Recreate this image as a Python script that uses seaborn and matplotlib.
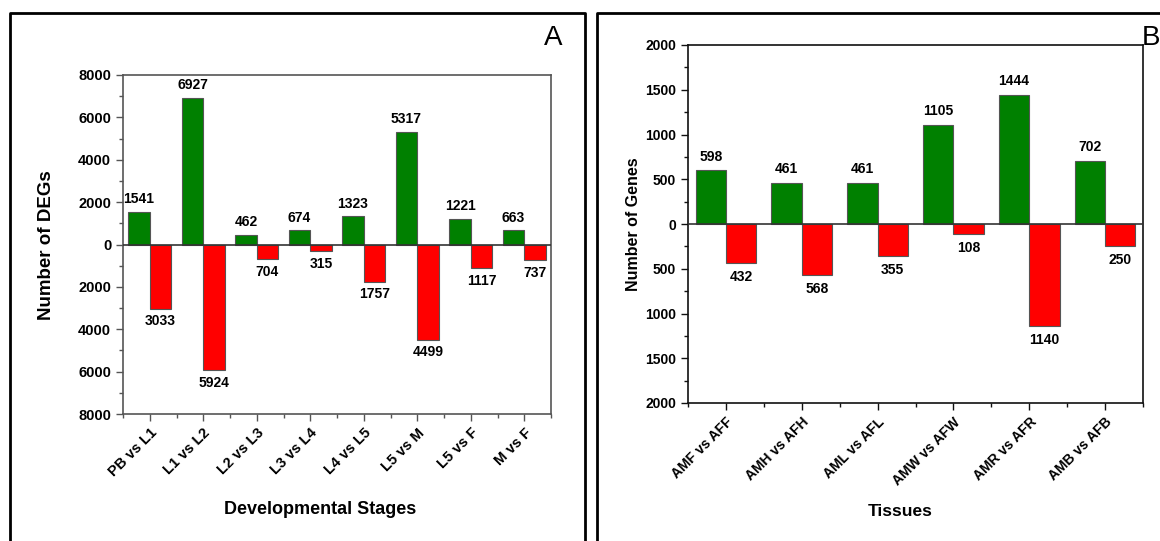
import pandas as pd
import seaborn as sns
import matplotlib.pyplot as plt
from matplotlib.lines import Line2D
from matplotlib.ticker import MultipleLocator, FuncFormatter

# Panel A data: DEGs between developmental stages
stages = ["PB vs L1", "L1 vs L2", "L2 vs L3", "L3 vs L4",
          "L4 vs L5", "L5 vs M", "L5 vs F", "M vs F"]
stages_up = [1541, 6927, 462, 674, 1323, 5317, 1221, 663]
stages_down = [3033, 5924, 704, 315, 1757, 4499, 1117, 737]

# Panel B data: genes between tissues
tissues = ["AMF vs AFF", "AMH vs AFH", "AML vs AFL",
           "AMW vs AFW", "AMR vs AFR", "AMB vs AFB"]
tissues_up = [598, 461, 461, 1105, 1444, 702]
tissues_down = [432, 568, 355, 108, 1140, 250]

GREEN = "#008000"
RED = "#ff0000"

sns.set_style("ticks")
plt.rcParams["font.family"] = ["Liberation Sans", "DejaVu Sans"]
plt.rcParams["font.weight"] = "bold"
plt.rcParams["text.color"] = "black"
plt.rcParams["axes.labelcolor"] = "black"
plt.rcParams["xtick.labelcolor"] = "black"
plt.rcParams["ytick.labelcolor"] = "black"

W, H = 1160, 541
fig = plt.figure(figsize=(W / 100, H / 100), dpi=100)


def px_axes(left, top, right, bottom):
    return fig.add_axes([left / W, 1 - bottom / H, (right - left) / W, (bottom - top) / H])


def make_df(cats, up, down):
    df_up = pd.DataFrame({"comp": cats, "value": up, "dir": "Up"})
    df_dn = pd.DataFrame({"comp": cats, "value": [-v for v in down], "dir": "Down"})
    return pd.concat([df_up, df_dn], ignore_index=True)


def draw_panel(ax, cats, up, down, ylim, major, minor, spine_color, fs_tick, fs_xt, fs_val, offset):
    df = make_df(cats, up, down)
    sns.barplot(data=df, x="comp", y="value", hue="dir", hue_order=["Up", "Down"],
                palette={"Up": GREEN, "Down": RED}, saturation=1, width=0.8, dodge=True,
                edgecolor="#555555", linewidth=0.8, legend=False, ax=ax)
    ax.axhline(0, color="#333333", lw=1.2, zorder=3)
    ax.set_ylim(-ylim, ylim)
    ax.set_xlim(-0.5, len(cats) - 0.5)
    ax.yaxis.set_major_locator(MultipleLocator(major))
    ax.yaxis.set_minor_locator(MultipleLocator(minor))
    ax.yaxis.set_major_formatter(FuncFormatter(lambda v, p: f"{abs(int(round(v)))}"))
    ax.xaxis.set_minor_locator(MultipleLocator(0.5))
    ax.tick_params(axis="both", which="major", direction="out", length=5, width=1,
                   color=spine_color, labelsize=fs_tick, labelcolor="black")
    ax.tick_params(axis="both", which="minor", direction="out", length=3, width=1,
                   color=spine_color)
    for lab in ax.get_yticklabels():
        lab.set_fontweight("bold")
    ax.set_xticks(range(len(cats)))
    ax.set_xticklabels(cats, rotation=45, ha="right", rotation_mode="anchor",
                       fontsize=fs_xt, fontweight="bold")
    for s in ax.spines.values():
        s.set_visible(True)
        s.set_color(spine_color)
        s.set_linewidth(1.2)
    for i, (u, d) in enumerate(zip(up, down)):
        ax.annotate(str(u), (i - 0.2, u), xytext=(0, offset), textcoords="offset points",
                    ha="center", va="bottom", fontsize=fs_val, fontweight="bold")
        ax.annotate(str(d), (i + 0.2, -d), xytext=(0, -offset), textcoords="offset points",
                    ha="center", va="top", fontsize=fs_val, fontweight="bold")


# Panel A
axA = px_axes(123, 75, 551, 414)
draw_panel(axA, stages, stages_up, stages_down, 8000, 2000, 1000, "#555555", 10.5, 10.5, 10, 4)
axA.set_xlabel("")
axA.set_ylabel("")
fig.text(47 / W, 1 - 245 / H, "Number of DEGs", rotation=90, ha="center", va="center",
         fontsize=13.5, fontweight="bold")
fig.text(320 / W, 1 - 510 / H, "Developmental Stages", ha="center", va="center",
         fontsize=13, fontweight="bold")
fig.text(553 / W, 1 - 38 / H, "A", ha="center", va="center", fontsize=20, fontweight="normal")

# Panel B
axB = px_axes(688, 45, 1143, 403)
draw_panel(axB, tissues, tissues_up, tissues_down, 2000, 500, 250, "#111111", 10, 10, 10, 5)
axB.set_xlabel("")
axB.set_ylabel("")
fig.text(633 / W, 1 - 224 / H, "Number of Genes", rotation=90, ha="center", va="center",
         fontsize=11.5, fontweight="bold")
fig.text(900 / W, 1 - 511 / H, "Tissues", ha="center", va="center",
         fontsize=12.5, fontweight="bold")
fig.text(1151 / W, 1 - 38 / H, "B", ha="center", va="center", fontsize=20, fontweight="normal")

# panel frames
for xs, ys in [([10, 10, 585, 585], [560, 13, 13, 560]),
               ([597, 597, 1170], [560, 13, 13])]:
    fig.add_artist(Line2D([x / W for x in xs], [1 - y / H for y in ys],
                          transform=fig.transFigure, color="black", lw=2))

fig.savefig("out.png", dpi=100)
